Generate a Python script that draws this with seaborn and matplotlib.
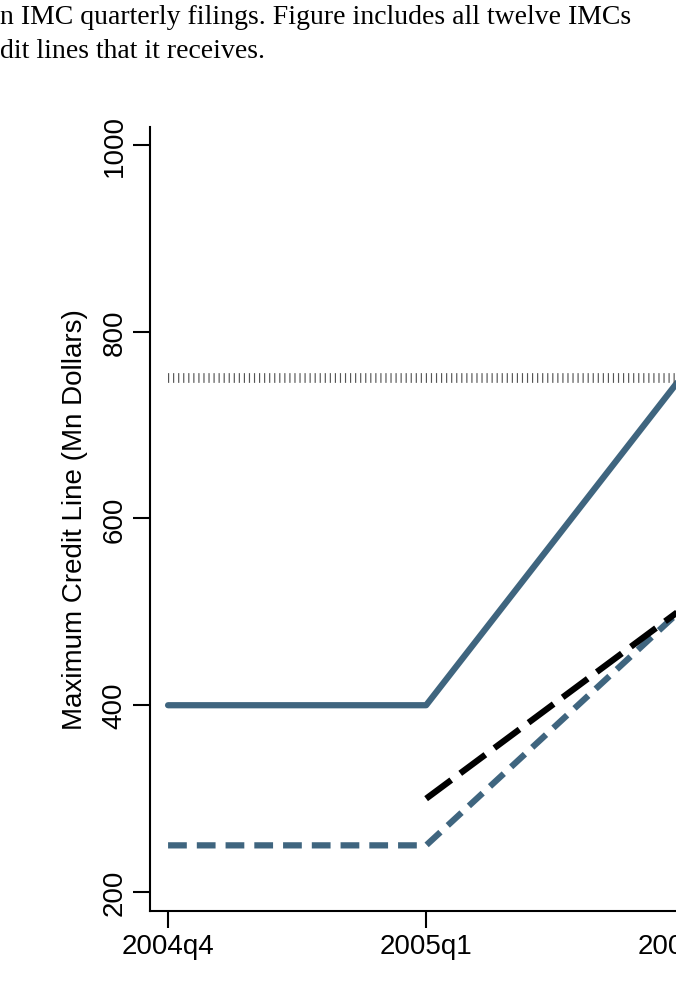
import matplotlib
matplotlib.use("Agg")
import matplotlib.pyplot as plt
import seaborn as sns

sns.set_theme(style="white")
plt.rcParams['font.family'] = ['Liberation Sans', 'DejaVu Sans']
plt.rcParams['text.color'] = 'black'
plt.rcParams['axes.labelcolor'] = 'black'
plt.rcParams['xtick.color'] = 'black'
plt.rcParams['ytick.color'] = 'black'

quarters = ["2004q4", "2005q1", "2005q2"]
solid_vals = [400, 400, 755]
dashed_vals = [250, 250, 505]
black_vals = [None, 300, 505]
cap_vals = [750, 750, 750]

x = [0, 1, 2]
fig = plt.figure(figsize=(6.76, 10.03), dpi=100)
ax = fig.add_axes([150/676, 0.0907, (710-150)/676, 0.8724-0.0907])
blue = "#3f657f"

sns.lineplot(x=x, y=solid_vals, ax=ax, color=blue, lw=4.5)
sns.lineplot(x=x, y=dashed_vals, ax=ax, color=blue, lw=4.5, linestyle=(0, (3, 1.6)))
bx = [xi for xi, v in zip(x, black_vals) if v is not None]
bv = [v for v in black_vals if v is not None]
sns.lineplot(x=bx, y=bv, ax=ax, color="black", lw=4.5, linestyle=(0, (5, 1.8)))
sns.lineplot(x=x, y=cap_vals, ax=ax, color="#555555", lw=7, linestyle=(0, (0.12, 0.4)))

ax.set_xlim(-0.07, 2.1)
ax.set_ylim(179.7, 1019)
ax.set_xticks(x)
ax.set_xticklabels(quarters, fontsize=20)
ax.set_yticks([200, 400, 600, 800, 1000])
ax.set_yticklabels(["200", "400", "600", "800", "1000"], fontsize=20, rotation=90, va="center")
ax.tick_params(axis="both", direction="out", length=12, width=1.5, color="black", bottom=True, left=True, pad=4)
ax.set_ylabel("Maximum Credit Line (Mn Dollars)", fontsize=20, labelpad=10)
for s in ["top", "right"]:
    ax.spines[s].set_visible(False)
for s in ["left", "bottom"]:
    ax.spines[s].set_color("black")
    ax.spines[s].set_linewidth(1.5)

fig.text(0.0, 1 - 18/1003, "n IMC quarterly filings. Figure includes all twelve IMCs",
         family=["Liberation Serif"], fontsize=20, va="center", ha="left")
fig.text(0.0, 1 - 52/1003, "dit lines that it receives.",
         family=["Liberation Serif"], fontsize=20, va="center", ha="left")
fig.savefig("out.png", dpi=100)
